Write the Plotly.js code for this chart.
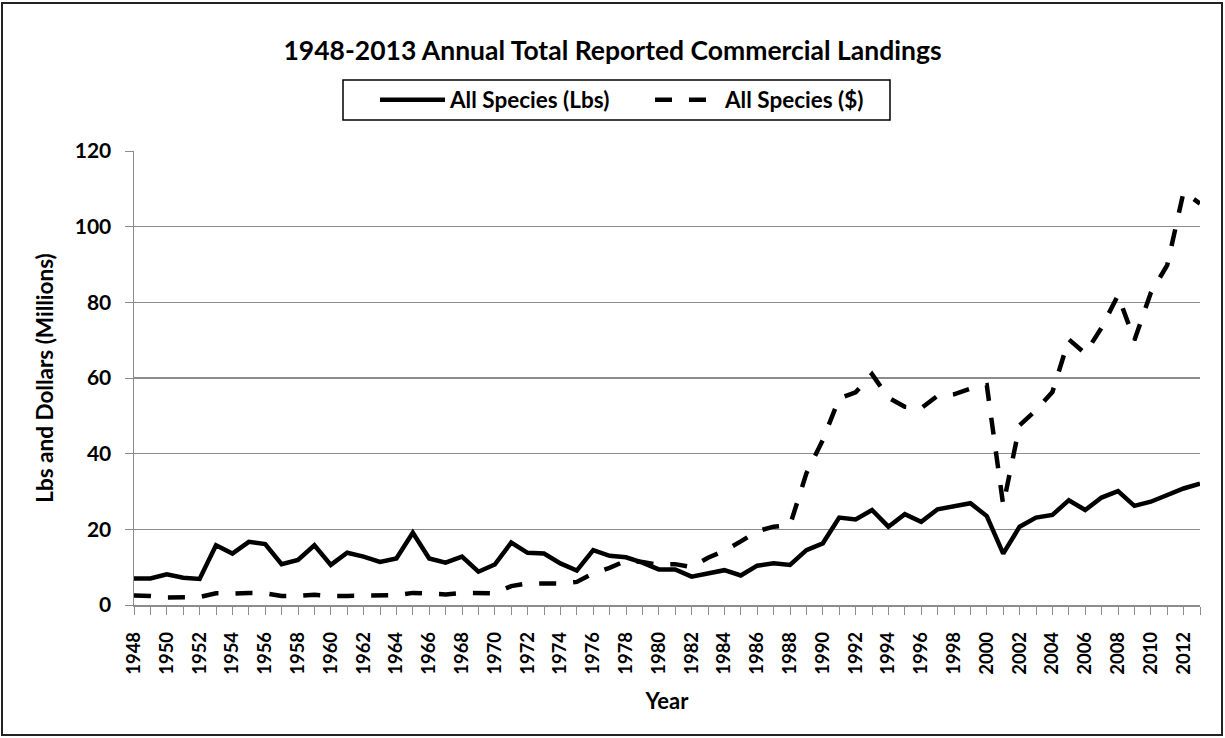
<!DOCTYPE html>
<html>
<head>
<meta charset="utf-8">
<script src="https://cdn.plot.ly/plotly-3.0.1.min.js"></script>
<style>
html,body{margin:0;padding:0;background:#fff;}
#chart{width:1225px;height:738px;}
</style>
</head>
<body>
<div id="chart"></div>
<script>
const years = [];
for (let y = 1948; y <= 2013; y++) years.push(y);

const lbsMillions = [
  7.0, 7.0, 8.1, 7.2, 6.9, 15.8, 13.6, 16.7, 16.1, 10.8,
  11.9, 15.8, 10.6, 13.8, 12.8, 11.4, 12.3, 19.1, 12.3, 11.2,
  12.8, 8.8, 10.7, 16.5, 13.8, 13.6, 11.0, 9.1, 14.5, 13.0,
  12.6, 11.2, 9.4, 9.4, 7.5, 8.4, 9.2, 7.8, 10.4, 11.0,
  10.6, 14.5, 16.3, 23.1, 22.6, 25.1, 20.7, 24.0, 22.0, 25.3,
  26.0, 26.9, 23.5, 13.6, 20.7, 23.1, 23.8, 27.7, 25.1, 28.4,
  30.1, 26.2, 27.3, 29.2, 30.8, 32.1
];

const dollarsMillions = [
  2.5, 2.4, 2.0, 2.0, 2.1, 3.1, 3.0, 3.2, 3.1, 2.4,
  2.4, 2.7, 2.4, 2.4, 2.4, 2.4, 2.6, 3.2, 2.9, 2.8,
  3.2, 3.1, 3.1, 5.0, 5.7, 5.7, 5.7, 6.1, 8.4, 9.8,
  11.7, 11.4, 10.6, 10.8, 10.0, 12.5, 14.3, 16.8, 19.5, 20.7,
  21.1, 34.8, 43.6, 54.6, 56.2, 61.0, 54.8, 52.4, 52.0, 55.3,
  55.7, 57.2, 58.1, 26.4, 47.5, 51.5, 56.3, 70.2, 66.5, 73.3,
  81.9, 70.0, 82.5, 89.8, 109.2, 106.1
];

const seriesNames = ["All Species (Lbs)", "All Species ($)"];
const titleText = "1948-2013 Annual Total Reported Commercial Landings";
const xTitle = "Year";
const yTitle = "Lbs and Dollars (Millions)";

const FONT = "Lato, 'Open Sans', sans-serif";
const grid = "#8c8c8c";

const traces = [
  {x: years, y: lbsMillions, name: seriesNames[0], type: "scatter", mode: "lines",
   line: {color: "#000", width: 4.5, shape: "linear"}},
  {x: years, y: dollarsMillions, name: seriesNames[1], type: "scatter", mode: "lines",
   line: {color: "#000", width: 4.5, dash: "17px,17px", shape: "linear"}}
];

const W = 1225, H = 738;
const mL = 134, mR = 25, mT = 151, mB = 133;
const pw = W - mL - mR, ph = H - mT - mB;
const px = v => (v - mL) / pw;          // pixel x -> paper x
const py = v => (H - mB - v) / ph;      // pixel y -> paper y

const layout = {
  width: W, height: H,
  margin: {l: mL, r: mR, t: mT, b: mB, pad: 0},
  paper_bgcolor: "#fff", plot_bgcolor: "#fff",
  font: {family: FONT, color: "#000", size: 15, weight: "bold"},
  title: {text: "<b>" + titleText + "</b>", x: 0.5, xanchor: "center", y: 1 - 51/H, yanchor: "middle",
          font: {family: FONT, size: 26.5, color: "#000"}},
  showlegend: true,
  legend: {orientation: "h", x: px(375), xanchor: "left", y: py(100), yanchor: "middle",
           borderwidth: 0, bgcolor: "rgba(0,0,0,0)",
           font: {family: FONT, size: 22.5, color: "#000", weight: "bold"},
           itemwidth: 65, entrywidth: 195, entrywidthmode: "pixels"},
  xaxis: {
    type: "linear", range: [1948, 2013], tickmode: "linear", tick0: 1948, dtick: 2,
    tickangle: -90, ticks: "outside", ticklen: 8, tickcolor: grid, tickwidth: 1,
    ticklabelstandoff: 10,
    minor: {dtick: 1, tick0: 1948, ticks: "outside", ticklen: 8, tickcolor: grid, showgrid: false},
    showgrid: false, zeroline: false, showline: true, linecolor: grid, linewidth: 1.5,
    tickfont: {family: FONT, size: 18.5, color: "#000", weight: "bold"},
    title: {text: "<b>" + xTitle + "</b>", font: {family: FONT, size: 22, color: "#000"}, standoff: 20},
    fixedrange: true
  },
  yaxis: {
    range: [0, 120], tickmode: "linear", tick0: 0, dtick: 20,
    ticks: "outside", ticklen: 8, tickcolor: grid, ticklabelstandoff: 9,
    showgrid: true, gridcolor: grid, gridwidth: 1.5,
    zeroline: false, showline: true, linecolor: grid, linewidth: 1.5,
    tickfont: {family: FONT, size: 21, color: "#000", weight: "bold"},
    title: {text: "<b>" + yTitle + "</b>", font: {family: FONT, size: 22.5, color: "#000"}, standoff: 15},
    fixedrange: true
  },
  shapes: [
    {type: "rect", xref: "paper", yref: "paper",
     x0: px(2), x1: px(1222), y0: py(735), y1: py(3),
     line: {color: "#222", width: 2}, fillcolor: "rgba(0,0,0,0)", layer: "below"},
    {type: "rect", xref: "paper", yref: "paper",
     x0: px(343), x1: px(890), y0: py(120), y1: py(80),
     line: {color: "#000", width: 1.5}, fillcolor: "rgba(0,0,0,0)", layer: "above"}
  ]
};

Plotly.newPlot("chart", traces, layout, {displayModeBar: false, staticPlot: true});
</script>
</body>
</html>
